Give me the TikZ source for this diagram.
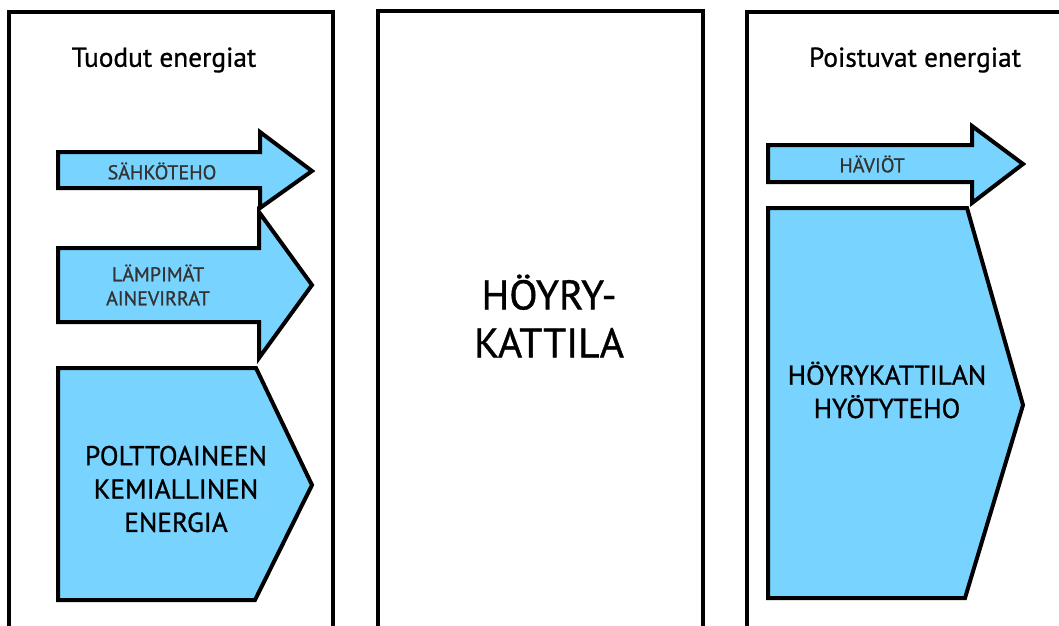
\documentclass[tikz,border=0pt]{standalone}
\usepackage{fontspec}
\setmainfont{PT Sans}[FakeBold=0.9]

\definecolor{flowblue}{RGB}{120,212,255}
\definecolor{labelgrey}{RGB}{51,51,51}

\newlength{\du}
\setlength{\du}{0.75pt}

\tikzset{
  panel/.style={draw=black, line width=4\du},
  flow/.style={draw=black, fill=flowblue, line width=4\du, line join=miter},
  paneltitle/.style={font=\fontsize{20.5}{24}\selectfont},
  flowsmall/.style={align=center, text=labelgrey, font=\fontsize{15}{18}\selectfont},
  flowbig/.style={align=center, font=\fontsize{20.5}{25}\selectfont},
  boilertext/.style={align=center, font=\fontsize{31}{36}\selectfont},
}

\begin{document}
\begin{tikzpicture}[x=0.75pt,y=-0.75pt]
\useasboundingbox (0,0) rectangle (1059,625);
\clip (0,0) rectangle (1059,625);

% the three panels, open at the bottom of the page
\draw[panel] (9,12) rectangle (333,660);
\draw[panel] (378,11) rectangle (703,660);
\draw[panel] (747,12) rectangle (1100,660);

% incoming energies
\draw[flow] (58,152) -- (260,152) -- (260,132) -- (312,171) -- (260,208) -- (260,188) -- (58,188) -- cycle;
\draw[flow] (58,248) -- (259,248) -- (259,212) -- (312,285) -- (259,358) -- (259,322) -- (58,322) -- cycle;
\draw[flow] (58,368) -- (256,368) -- (312,485) -- (255,600) -- (58,600) -- cycle;

% outgoing energies
\draw[flow] (768,145) -- (972,145) -- (972,126) -- (1023,164) -- (972,203) -- (972,182) -- (768,182) -- cycle;
\draw[flow] (768,208) -- (967,208) -- (1023,405) -- (965,598) -- (768,598) -- cycle;

% labels
\node[paneltitle] (tuodut) at (164,60) {Tuodut energiat};
\node[paneltitle] (poistuvat) at (915,60) {Poistuvat energiat};
\node[boilertext] (kattila) at (549,316) {HÖYRY-\\KATTILA};

\node[flowsmall] (sahko) at (162,171) {SÄHKÖTEHO};
\node[flowsmall] (lampo) at (158,285) {LÄMPIMÄT\\AINEVIRRAT};
\node[flowbig] (polttoaine) at (176,489) {POLTTOAINEEN\\KEMIALLINEN\\ENERGIA};

\node[flowsmall] (haviot) at (872,164) {HÄVIÖT};
\node[flowbig] (hyoty) at (887,390) {HÖYRYKATTILAN\\HYÖTYTEHO};
\end{tikzpicture}
\end{document}
